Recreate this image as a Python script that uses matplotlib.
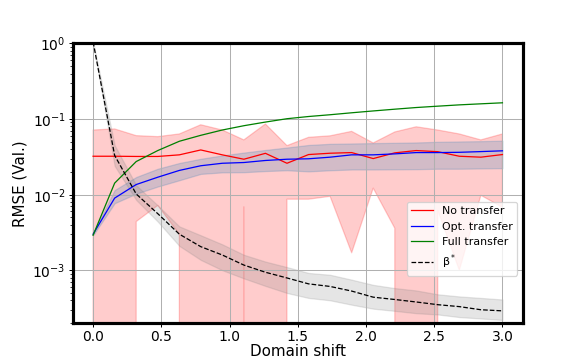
import numpy as np
import matplotlib
matplotlib.use("Agg")
from matplotlib import pyplot as plt

# domain shift grid (20 runs from 0 to 3)
shift = [0.0, 0.158, 0.316, 0.474, 0.632, 0.789, 0.947, 1.105, 1.263, 1.421,
         1.579, 1.737, 1.895, 2.053, 2.211, 2.368, 2.526, 2.684, 2.842, 3.0]

# no transfer: mean and band (lower edge goes <=0 where the std is large)
noTransfer = [0.0322, 0.0322, 0.032, 0.032, 0.0336, 0.039, 0.0336, 0.0294, 0.0352, 0.026,
              0.0339, 0.0353, 0.036, 0.030, 0.0357, 0.0383, 0.037, 0.0322, 0.0313, 0.0339]
noTransferLo = [-0.007, -0.01, 0.0044, 0.0072, 0.003, -0.01, -0.005, 0.0069, -0.01, 0.0087,
                0.0087, 0.0095, 0.0017, 0.0122, 0.0036, -0.01, 0.0062, 0.001, 0.0098, 0.0068]
noTransferHi = [0.0716, 0.074, 0.0603, 0.0585, 0.0635, 0.084, 0.0716, 0.053, 0.086, 0.0445,
                0.0573, 0.060, 0.0687, 0.0483, 0.0675, 0.079, 0.0716, 0.0635, 0.053, 0.0635]

# optimal transfer
optTransfer = [0.003, 0.009, 0.0136, 0.017, 0.0209, 0.0241, 0.026, 0.0266, 0.0283, 0.0294,
               0.0298, 0.0313, 0.0336, 0.0336, 0.0346, 0.036, 0.036, 0.0363, 0.0371, 0.038]
optTransferLo = [0.0029, 0.0077, 0.0103, 0.0128, 0.0155, 0.0188, 0.0197, 0.0198, 0.0205, 0.021,
                 0.0203, 0.021, 0.0215, 0.0215, 0.0216, 0.0217, 0.022, 0.022, 0.0222, 0.0224]
optTransferHi = [0.0031, 0.0115, 0.0171, 0.022, 0.0262, 0.0298, 0.033, 0.036, 0.039, 0.042,
                 0.0454, 0.047, 0.0475, 0.048, 0.0485, 0.049, 0.050, 0.0505, 0.051, 0.0518]

# full transfer
fullTransfer = [0.0029, 0.0142, 0.0274, 0.0383, 0.0508, 0.0609, 0.0716, 0.0816, 0.0912, 0.101,
                0.108, 0.114, 0.121, 0.128, 0.135, 0.142, 0.148, 0.154, 0.159, 0.164]

# beta*
beta = [1.05, 0.033, 0.0102, 0.0056, 0.003, 0.00205, 0.00159, 0.00117, 0.00094, 0.00079,
        0.00066, 0.00061, 0.00053, 0.00044, 0.00041, 0.00038, 0.00035, 0.00033, 0.0003, 0.00029]
betaLo = [1.05, 0.024, 0.0085, 0.0044, 0.0021, 0.00137, 0.001, 0.00078, 0.00062, 0.0005,
          0.00043, 0.0004, 0.00035, 0.00031, 0.00029, 0.00027, 0.00026, 0.00024, 0.00023, 0.00022]
betaHi = [1.05, 0.045, 0.0133, 0.0072, 0.0038, 0.0029, 0.0022, 0.0016, 0.0013, 0.0011,
          0.00092, 0.00087, 0.00075, 0.00064, 0.00058, 0.00054, 0.00048, 0.00045, 0.00043, 0.00041]

fig, ax = plt.subplots(1, 1, figsize=(6.4, 4), dpi=581/6.4)
ax.set_yscale("log")

ax.fill_between(shift, noTransferLo, noTransferHi, color="red", alpha=0.2)
ax.fill_between(shift, optTransferLo, optTransferHi, color="tab:blue", alpha=0.2)
ax.fill_between(shift, betaLo, betaHi, color="gray", alpha=0.2)

ax.plot(shift, noTransfer, color="red", lw=1, label="No transfer")
ax.plot(shift, optTransfer, color="blue", lw=1, label="Opt. transfer")
ax.plot(shift, fullTransfer, color="green", lw=1, label="Full transfer")
ax.plot(shift, beta, "k--", lw=1, label=r"β$^*$")

ax.set_ylim(2e-4, 1)
ax.grid(True)
for s in ax.spines.values():
    s.set_linewidth(2.5)
ax.tick_params(labelsize=11, pad=2)
ax.set_xlabel("Domain shift", fontsize=12, labelpad=0)
ax.set_ylabel("RMSE (Val.)", fontsize=12)
ax.legend(loc="lower right", bbox_to_anchor=(1, 0.15), fontsize=8.7)

fig.savefig("out.png")
